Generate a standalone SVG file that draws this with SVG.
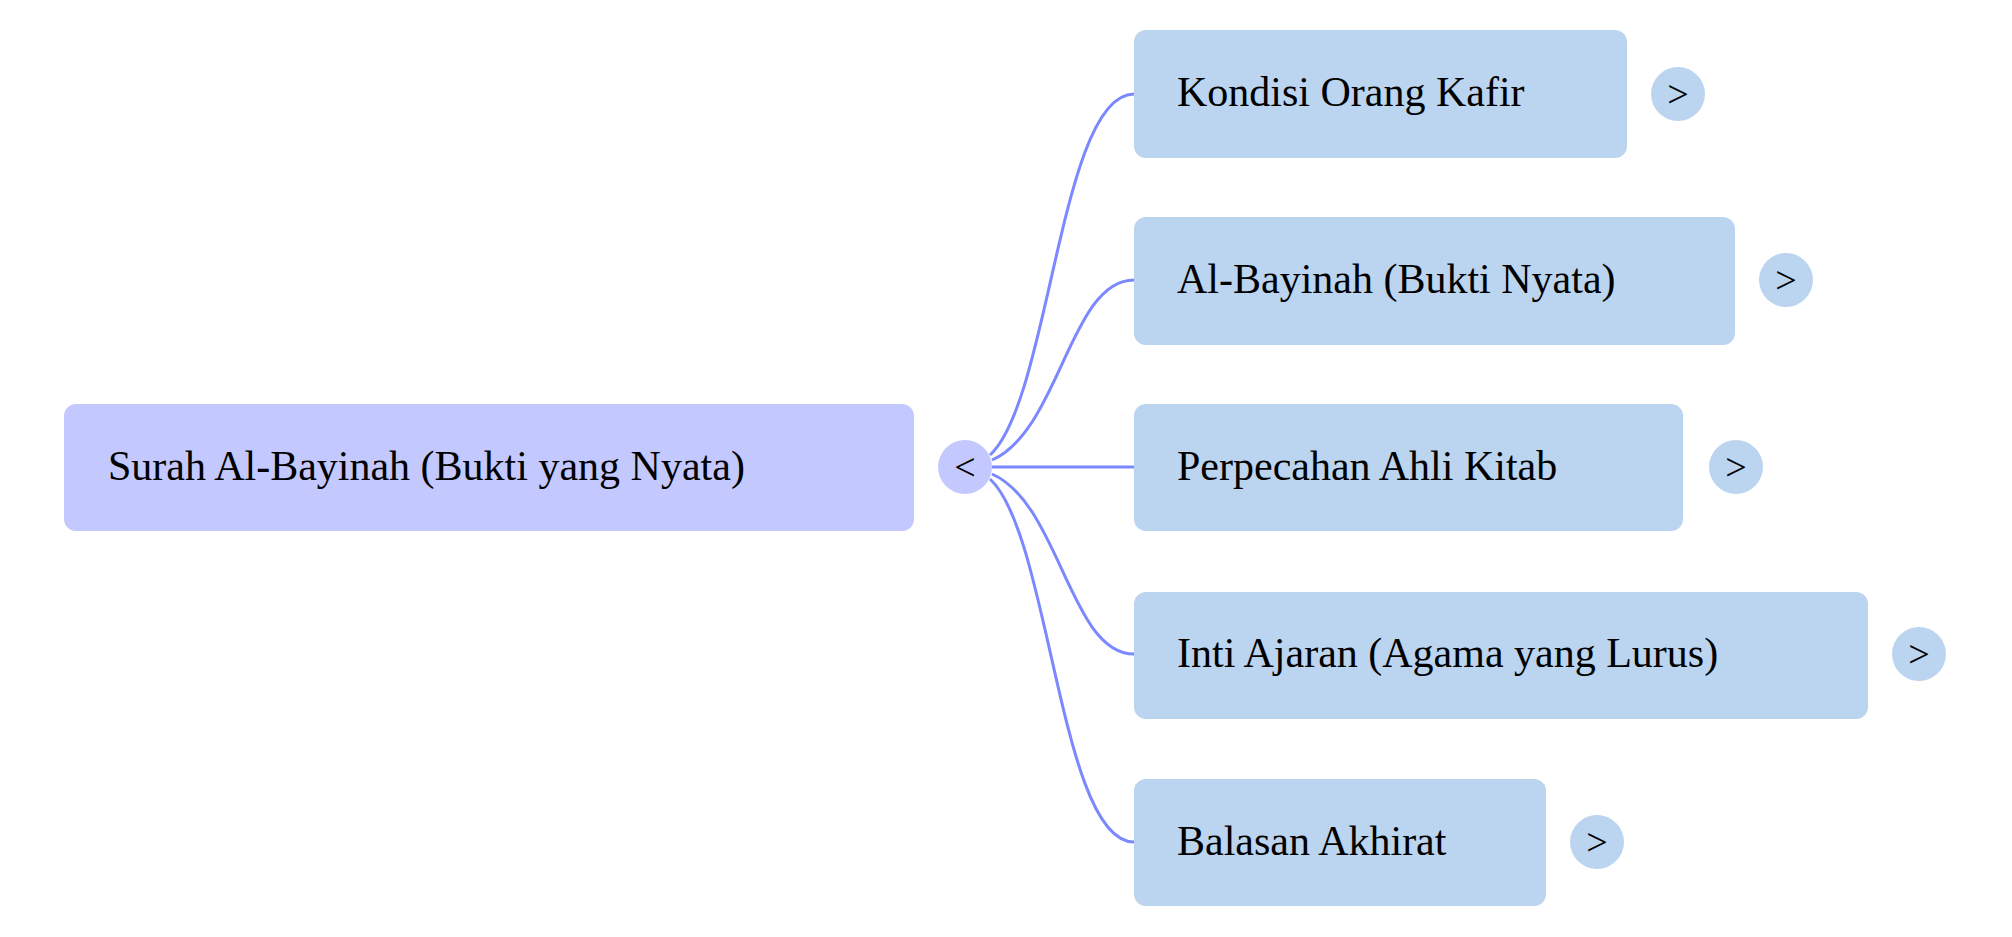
<svg xmlns="http://www.w3.org/2000/svg" width="2012" height="937" viewBox="0 0 2012 937">
<style>
.root{fill:#c3c9fe}.child{fill:#bbd4ef}
text{font-family:"Liberation Serif",serif;font-size:42px;fill:#000}
.t{text-anchor:middle;font-size:38px}
.c{fill:none;stroke:#7b88ff;stroke-width:3}
</style>
<rect width="2012" height="937" fill="#fff"/>
<g id="connectors">
<path class="c" d="M990 455 C1050 400,1060 94,1134 94"/>
<path class="c" d="M992 460 C1060 430,1070 280,1134 280"/>
<path class="c" d="M992 467 L1134 467"/>
<path class="c" d="M992 474 C1060 504,1070 654,1134 654"/>
<path class="c" d="M990 479 C1050 534,1060 842,1134 842"/>
</g>
<g id="root"><rect class="root" x="64" y="404" width="850" height="127" rx="12"/><text x="108" y="480">Surah Al-Bayinah (Bukti yang Nyata)</text>
<circle cx="965" cy="467" r="27" fill="#c3c9fe"/><text class="t" x="965" y="480">&lt;</text></g>
<g id="n1"><rect class="child" x="1134" y="30" width="493" height="128" rx="12"/><text x="1177" y="106">Kondisi Orang Kafir</text><circle cx="1678" cy="94" r="27" fill="#bbd4ef"/><text class="t" x="1678" y="107">&gt;</text></g>
<g id="n2"><rect class="child" x="1134" y="217" width="601" height="128" rx="12"/><text x="1177" y="293">Al-Bayinah (Bukti Nyata)</text><circle cx="1786" cy="280" r="27" fill="#bbd4ef"/><text class="t" x="1786" y="293">&gt;</text></g>
<g id="n3"><rect class="child" x="1134" y="404" width="549" height="127" rx="12"/><text x="1177" y="480">Perpecahan Ahli Kitab</text><circle cx="1736" cy="467" r="27" fill="#bbd4ef"/><text class="t" x="1736" y="480">&gt;</text></g>
<g id="n4"><rect class="child" x="1134" y="592" width="734" height="127" rx="12"/><text x="1177" y="667">Inti Ajaran (Agama yang Lurus)</text><circle cx="1919" cy="654" r="27" fill="#bbd4ef"/><text class="t" x="1919" y="667">&gt;</text></g>
<g id="n5"><rect class="child" x="1134" y="779" width="412" height="127" rx="12"/><text x="1177" y="855">Balasan Akhirat</text><circle cx="1597" cy="842" r="27" fill="#bbd4ef"/><text class="t" x="1597" y="855">&gt;</text></g>
</svg>
